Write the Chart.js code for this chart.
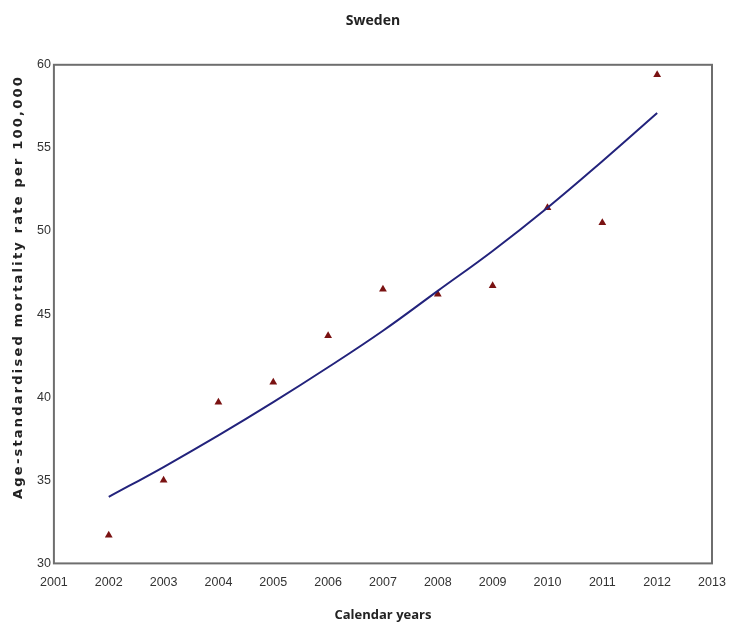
<!DOCTYPE html>
<html lang="en">
  <head>
    <meta charset="UTF-8" />
    <title>Sweden</title>
    <script src="https://cdn.jsdelivr.net/npm/chart.js"></script>
    <style>
      body {
        margin: 0;
        background: #ffffff;
      }
      #wrap {
        width: 729px;
        height: 628px;
      }
    </style>
  </head>
  <body>
    <div id="wrap"><canvas id="chart" width="729" height="628"></canvas></div>

    <script>
      // observed rates (triangles)
      const years = [2002, 2003, 2004, 2005, 2006, 2007, 2008, 2009, 2010, 2011, 2012];
      const observed = [31.7, 35.0, 39.7, 40.9, 43.7, 46.5, 46.2, 46.7, 51.4, 50.5, 59.4];
      // fitted trend line at each year
      const fitted = [34.0, 35.8, 37.7, 39.7, 41.8, 44.0, 46.4, 48.8, 51.4, 54.2, 57.1];

      const xTicks = [2001, 2002, 2003, 2004, 2005, 2006, 2007, 2008, 2009, 2010, 2011, 2012, 2013];
      const yTicks = [30, 35, 40, 45, 50, 55, 60];
      const yTitle = "Age-standardised mortality rate per 100,000";

      const tickFont = { family: "'Liberation Sans', Arial", size: 12.5 };

      // box around the plot area + the spaced-out y axis title
      const extras = {
        id: "extras",
        afterDraw(c) {
          const a = c.chartArea;
          const ctx = c.ctx;
          ctx.save();
          ctx.strokeStyle = "#6e6e6e";
          ctx.lineWidth = 2;
          ctx.strokeRect(a.left, a.top, a.right - a.left, a.bottom - a.top);

          ctx.translate(19, 287);
          ctx.rotate(-Math.PI / 2);
          ctx.font = "bold 13px 'DejaVu Sans', Verdana";
          ctx.letterSpacing = "2.2px";
          ctx.fillStyle = "#222";
          ctx.textAlign = "center";
          ctx.textBaseline = "middle";
          ctx.fillText(yTitle, 0, 0);
          ctx.restore();
        },
      };

      new Chart(document.getElementById("chart"), {
        type: "scatter",
        data: {
          datasets: [
            {
              label: "Fitted",
              type: "line",
              data: years.map((y, i) => ({ x: y, y: fitted[i] })),
              borderColor: "#23237c",
              borderWidth: 2,
              pointRadius: 0,
              tension: 0.4,
              fill: false,
            },
            {
              label: "Observed",
              data: years.map((y, i) => ({ x: y, y: observed[i] })),
              pointStyle: "triangle",
              pointRadius: 4.5,
              backgroundColor: "#7a1212",
              borderColor: "#7a1212",
              borderWidth: 0,
            },
          ],
        },
        options: {
          responsive: false,
          animation: false,
          layout: { padding: { top: 0, right: 17, bottom: 5, left: 34 } },
          plugins: {
            legend: { display: false },
            tooltip: { enabled: false },
            title: {
              display: true,
              text: "Sweden",
              color: "#222",
              font: { family: "'Open Sans', Arial", size: 14, weight: "bold" },
              padding: { top: 13, bottom: 35 },
            },
          },
          scales: {
            x: {
              type: "linear",
              min: 2001,
              max: 2013,
              afterBuildTicks: (s) => (s.ticks = xTicks.map((v) => ({ value: v }))),
              afterFit: (s) => {
                s.paddingLeft = 0;
                s.paddingRight = 0;
              },
              grid: { display: false, drawTicks: false },
              border: { display: false },
              ticks: {
                color: "#333",
                font: tickFont,
                padding: 12,
                maxRotation: 0,
                callback: (v) => String(v),
              },
              title: {
                display: true,
                text: "Calendar years",
                color: "#222",
                font: { family: "'Open Sans', Arial", size: 13, weight: "bold" },
                padding: { top: 5, bottom: 0 },
              },
            },
            y: {
              min: 30,
              max: 60,
              afterBuildTicks: (s) => (s.ticks = yTicks.map((v) => ({ value: v }))),
              grid: { display: false, drawTicks: false },
              border: { display: false },
              ticks: { color: "#333", font: tickFont, padding: 3 },
            },
          },
        },
        plugins: [extras],
      });
    </script>
  </body>
</html>
